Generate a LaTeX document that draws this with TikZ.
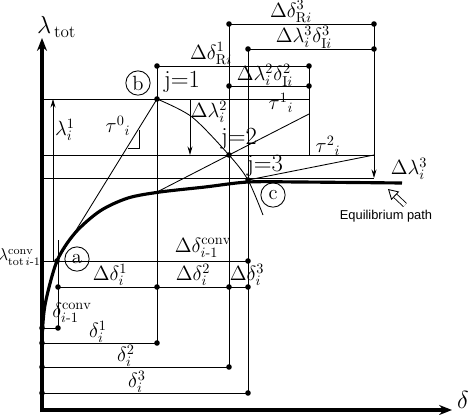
\documentclass[tikz,border=0pt]{standalone}
\usepackage{amsmath,amssymb}
\usepackage{fontspec}
\setsansfont{Liberation Sans}
\usepackage{tikz}
\usetikzlibrary{arrows.meta,positioning}

\begin{document}
\begin{tikzpicture}[x=0.7pt, y=-0.7pt,
    axis/.style={line width=2.2pt, -{Stealth[length=9pt, width=7pt]}},
    grid line/.style={line width=0.6pt},
    eqpath/.style={line width=2.2pt},
    dimarrow/.style={line width=0.6pt, -{Stealth[length=6pt, width=3.5pt]}},
    lbl/.style={font=\Large, inner sep=0pt},
    ptcircle/.style={circle, draw, line width=0.6pt, inner sep=0pt, minimum size=17pt, font=\Large}
]
    \useasboundingbox (0,0) rectangle (474,414);

    % points of the path
    \coordinate (O) at (42,410);
    \coordinate (a) at (57,261);
    \coordinate (b) at (157,99);
    \coordinate (j2) at (229,155);
    \coordinate (j3) at (248,180);
    \coordinate (t1s) at (157,192);
    \coordinate (t1e) at (309,114);
    \coordinate (t2e) at (374,155);

    % axes
    \coordinate (ytop) at (42,38);
    \coordinate (xend) at (452,410);
    \draw[axis] (42,412) -- (ytop);
    \draw[axis] (40,410) -- (xend);
    \node[font=\LARGE, anchor=west] (lamtot) at (32,27) {$\lambda_{\,\mathrm{tot}}$};
    \node[font=\LARGE, inner sep=0pt] (delta) at (463,400) {$\delta$};

    % level lines
    \draw[grid line] (42,99) -- (309,99);
    \draw[grid line] (42,155) -- (374,155);
    \draw[grid line] (42,178) -- (374,178);
    \draw[grid line] (42,261) -- (248,261);
    \draw[grid line] (58,287) -- (248,287);
    \draw[grid line] (42,328) -- (58,328);
    \draw[grid line] (42,343) -- (157,343);
    \draw[grid line] (42,367) -- (229,367);
    \draw[grid line] (42,393) -- (248,393);
    \draw[grid line] (229,24) -- (374,24);
    \draw[grid line] (248,49) -- (374,49);
    \draw[grid line] (157,66) -- (309,66);
    \draw[grid line] (229,86) -- (309,86);

    % vertical lines
    \draw[grid line] (58,240) -- (58,328);
    \draw[grid line] (157,66) -- (157,343);
    \draw[grid line] (229,24) -- (229,367);
    \draw[grid line] (248,49) -- (248,393);
    \draw[grid line] (309,66) -- (309,155);
    \draw[grid line] (374,24) -- (374,155);
    \draw[dimarrow] (53,261) -- (53,99);
    \draw[dimarrow] (190,99) -- (190,155);
    \draw[dimarrow] (374,155) -- (374,178);

    % tangents and iteration arc
    \draw[grid line] (a) -- (b);
    \draw[grid line] (128,148) -- (139,148) -- (139,130);
    \draw[grid line] (t1s) -- (j2) -- (t1e);
    \draw[grid line] (j3) -- (t2e);
    \draw[grid line] plot[smooth] coordinates {(157,99) (192,117) (229,155) (248,180) (263,215)};

    % equilibrium path
    \draw[eqpath] plot[smooth] coordinates {(42,340) (45,305) (57,261) (75,233) (100,211) (128,198) (160,192) (205,187) (248,182) (300,182) (402,183)};

    % dots
    \foreach \p in {(b), (j2), (j3), (a),
        (229,24), (374,24), (248,49), (374,49), (157,66), (309,66), (229,86), (309,86),
        (248,261), (58,287), (157,287), (229,287), (248,287),
        (42,328), (58,328), (42,343), (157,343), (42,367), (229,367), (42,393), (248,393)}
        \fill \p circle (2.8);

    % point markers
    \node[ptcircle] (ca) at (77,259) {a};
    \node[ptcircle] (cb) at (138,83) {b};
    \node[ptcircle] (cc) at (273,195) {c};
    \node[font=\LARGE] (jone) at (182,82) {j=1};
    \node[font=\LARGE] (jtwo) at (239,139) {j=2};
    \node[font=\LARGE] (jthree) at (265,166) {j=3};

    % labels
    \node[font=\large, inner sep=0pt, anchor=east] (lconv) at (41,257) {$\lambda^{\mathrm{conv}}_{\mathrm{tot}\,i\text{-}1}$};
    \node[lbl] (lone) at (65,130) {$\lambda^1_i$};
    \node[lbl] (tau0) at (118,126) {$\tau^0{}_i$};
    \node[lbl] (tau1) at (281,103) {$\tau^1{}_i$};
    \node[lbl] (tau2) at (328,146) {$\tau^2{}_i$};
    \node[lbl] (dltwo) at (209,112) {$\Delta\lambda^2_i$};
    \node[lbl] (dlthree) at (409,169) {$\Delta\lambda^3_i$};
    \node[lbl] (dRone) at (211,54) {$\Delta\delta^1_{\mathrm{R}i}$};
    \node[lbl] (dRthree) at (291,12) {$\Delta\delta^3_{\mathrm{R}i}$};
    \node[lbl] (dIthree) at (304,37) {$\Delta\lambda^3_i\delta^3_{\mathrm{I}i}$};
    \node[lbl] (dItwo) at (265,75) {$\Delta\lambda^2_i\delta^2_{\mathrm{I}i}$};
    \node[lbl] (ddconv) at (203,248) {$\Delta\delta^{\mathrm{conv}}_{i\text{-}1}$};
    \node[lbl] (ddone) at (110,275) {$\Delta\delta^1_i$};
    \node[lbl] (ddtwo) at (193,275) {$\Delta\delta^2_i$};
    \node[lbl] (ddthree) at (247,275) {$\Delta\delta^3_i$};
    \node[lbl] (dconv) at (72,313) {$\delta^{\mathrm{conv}}_{i\text{-}1}$};
    \node[lbl] (done) at (98,332) {$\delta^1_i$};
    \node[lbl] (dtwo) at (126,356) {$\delta^2_i$};
    \node[lbl] (dthree) at (137,382) {$\delta^3_i$};

    % equilibrium path note
    \node[font=\sffamily\small] (eqlbl) at (386,216) {Equilibrium path};
    \coordinate (eqtip) at (388,189);
    \coordinate (eqtail) at (405,205);
    \draw[line width=0.6pt, -{Triangle[open, length=7pt, width=8pt]}, double distance=2.5pt] (eqtail) -- (eqtip);
\end{tikzpicture}
\end{document}
